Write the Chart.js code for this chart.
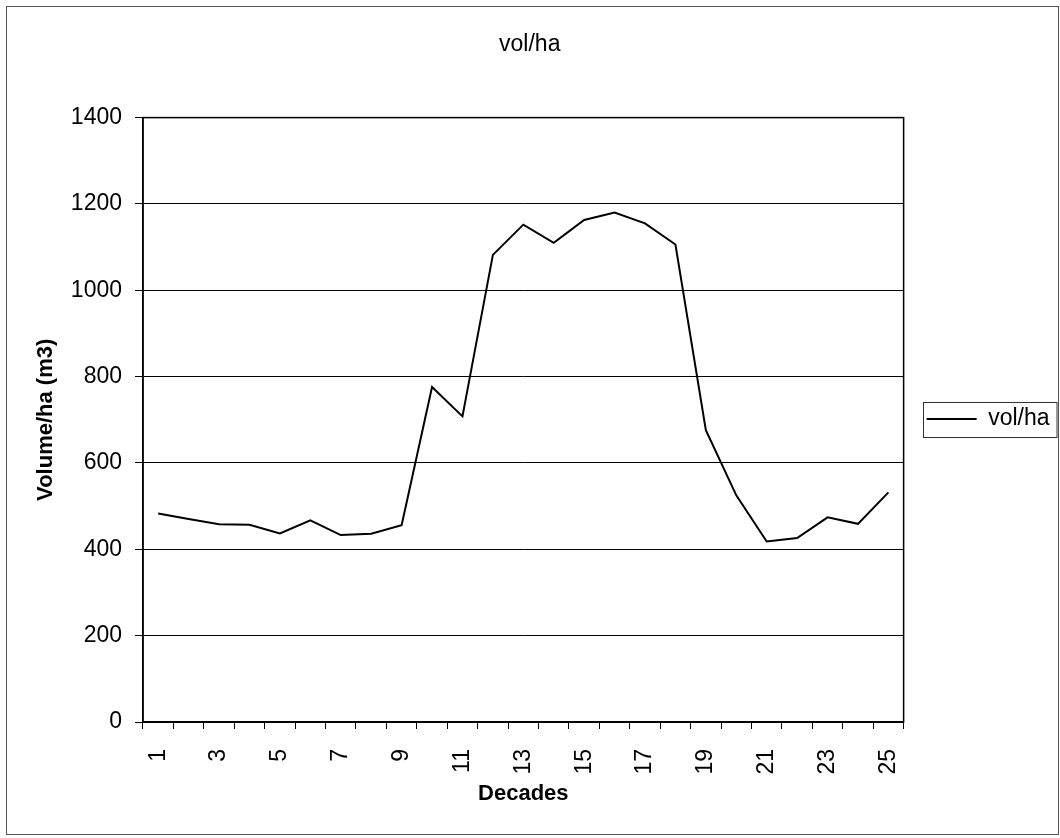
<!DOCTYPE html>
<html>
<head>
<meta charset="utf-8">
<title>vol/ha</title>
<script src="https://cdn.jsdelivr.net/npm/chart.js@4/dist/chart.umd.min.js"></script>
<style>
  body { margin: 0; background: #fff; }
  canvas { display: block; }
</style>
</head>
<body>
<canvas id="grafico" width="1060" height="838"></canvas>
<script>
const decades = ['1', '2', '3', '4', '5', '6', '7', '8', '9', '10', '11', '12', '13',
    '14', '15', '16', '17', '18', '19', '20', '21', '22', '23', '24', '25'];
const volHa = [483, 470, 458, 457, 437, 467, 433, 436, 456, 776, 708, 1082, 1152,
    1110, 1163, 1180, 1155, 1106, 676, 525, 418, 426, 474, 459, 532];
const yTicks = [0, 200, 400, 600, 800, 1000, 1200, 1400];

const fonte = 'Liberation Sans, Arial, sans-serif';

// contorno da area do grafico, moldura externa e caixa da legenda
const molduras = {
    id: 'molduras',
    afterDraw(chart) {
        const c = chart.ctx;
        const a = chart.chartArea;
        c.save();
        c.strokeStyle = '#000';
        c.lineWidth = 1.5;
        c.strokeRect(a.left, a.top, a.right - a.left, a.bottom - a.top);
        c.strokeStyle = '#555';
        c.lineWidth = 1;
        c.strokeRect(6.5, 6.5, 1052, 828);
        const hb = chart.legend.legendHitBoxes[0];
        if (hb) {
            const x0 = Math.round(hb.left) - 3.5;
            c.strokeStyle = '#333';
            c.strokeRect(x0, Math.round(hb.top) - 5.5, 1057 - x0, hb.height + 12);
        }
        c.restore();
    }
};

const ctx = document.getElementById('grafico').getContext('2d');
new Chart(ctx, {
    type: 'line',
    data: {
        labels: decades,
        datasets: [{
            label: 'vol/ha',
            data: volHa,
            borderColor: '#000',
            backgroundColor: '#000',
            borderWidth: 2,
            pointRadius: 0,
            tension: 0,
            fill: false
        }]
    },
    options: {
        responsive: false,
        animation: false,
        layout: { padding: { left: 0, right: 0.5, top: 0, bottom: 0 } },
        plugins: {
            title: {
                display: true,
                text: 'vol/ha',
                color: '#000',
                font: { family: fonte, size: 23, weight: 'normal' },
                padding: { top: 31, bottom: 59 }
            },
            legend: {
                display: true,
                position: 'right',
                labels: {
                    color: '#000',
                    font: { family: fonte, size: 23 },
                    usePointStyle: true,
                    pointStyle: 'line',
                    pointStyleWidth: 50,
                    padding: 23
                }
            },
            tooltip: { enabled: false }
        },
        scales: {
            x: {
                offset: true,
                afterFit(scale) { scale.height = 116; },
                grid: {
                    drawOnChartArea: false,
                    offset: true,
                    color: '#000',
                    tickLength: 7
                },
                border: { color: '#000', width: 1.5 },
                ticks: {
                    color: '#000',
                    font: { family: fonte, size: 23 },
                    autoSkip: false,
                    minRotation: 90,
                    maxRotation: 90,
                    padding: 20,
                    callback(v, i) { return i % 2 === 0 ? decades[i] : ''; }
                },
                title: {
                    display: true,
                    text: 'Decades',
                    color: '#000',
                    font: { family: fonte, size: 22, weight: 'bold' },
                    padding: { top: 0, bottom: 31 }
                }
            },
            y: {
                min: 0,
                max: 1400,
                afterFit(scale) { scale.width = 143; },
                afterBuildTicks(scale) { scale.ticks = yTicks.map(v => ({ value: v })); },
                grid: { color: '#000', tickLength: 8 },
                border: { color: '#000', width: 1.5 },
                ticks: {
                    color: '#000',
                    font: { family: fonte, size: 23 },
                    padding: 13,
                    callback(v) { return String(v); }
                },
                title: {
                    display: true,
                    text: 'Volume/ha (m3)',
                    color: '#000',
                    font: { family: fonte, size: 22, weight: 'bold' },
                    padding: { top: 33, bottom: 0 }
                }
            }
        }
    },
    plugins: [molduras]
});
</script>
</body>
</html>
